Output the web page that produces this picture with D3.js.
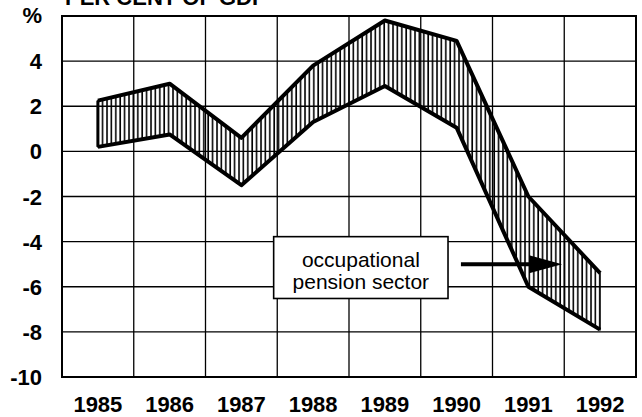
<!DOCTYPE html>
<html>
<head>
<meta charset="utf-8">
<script src="https://cdn.jsdelivr.net/npm/d3@7"></script>
<style>
  body { margin: 0; background: #fff; }
  text { font-family: "Liberation Sans", Arial, Helvetica, sans-serif; fill: #000; }
</style>
</head>
<body>
<div id="chart"></div>
<script>
// values, per cent of GDP
var years = [1985, 1986, 1987, 1988, 1989, 1990, 1991, 1992];
var upper = [2.25, 3.0, 0.6, 3.8, 5.8, 4.9, -2.0, -5.4];
var lower = [0.2, 0.75, -1.5, 1.3, 2.9, 1.05, -6.0, -7.9];
var yTicks = [-10, -8, -6, -4, -2, 0, 2, 4];
var boxLines = ["occupational", "pension sector"];

var full_width = 642, full_height = 417;
var margin = {top: 16, right: 6, bottom: 40, left: 62};
var width = full_width - margin.left - margin.right;
var height = full_height - margin.top - margin.bottom;

var svg = d3.select("#chart")
  .append("svg")
    .attr("width", full_width)
    .attr("height", full_height)
  .append("g")
    .attr("transform", "translate(" + margin.left + "," + margin.top + ")");

var x = d3.scaleLinear().domain([1984.5, 1992.5]).range([0, width]);
var y = d3.scaleLinear().domain([-10, 6]).range([height, 0]);

var data = years.map(function(d, i) { return {year: d, hi: upper[i], lo: lower[i]}; });

// hatching pattern
var defs = svg.append("defs");
defs.append("pattern")
    .attr("id", "hatch")
    .attr("patternUnits", "userSpaceOnUse")
    .attr("width", 4.4)
    .attr("height", 10)
  .append("line")
    .attr("x1", 1).attr("x2", 1)
    .attr("y1", 0).attr("y2", 10)
    .attr("stroke", "#000")
    .attr("stroke-width", 1.6);

// grid
svg.selectAll(".hgrid")
  .data(yTicks.filter(function(d) { return d > -10; }))
  .enter().append("line")
    .attr("x1", 0).attr("x2", width)
    .attr("y1", d => y(d)).attr("y2", d => y(d))
    .attr("stroke", "#000").attr("stroke-width", 1.3);

svg.selectAll(".vgrid")
  .data(years.slice(0, -1))
  .enter().append("line")
    .attr("x1", d => x(d + 0.5)).attr("x2", d => x(d + 0.5))
    .attr("y1", 0).attr("y2", height)
    .attr("stroke", "#000").attr("stroke-width", 1.3);

// frame
svg.append("rect")
  .attr("width", width).attr("height", height)
  .attr("fill", "none").attr("stroke", "#000").attr("stroke-width", 2);

// hatched band
var band = d3.area()
  .x(d => x(d.year))
  .y0(d => y(d.lo))
  .y1(d => y(d.hi));

svg.append("path")
  .attr("d", band(data))
  .attr("fill", "url(#hatch)")
  .attr("stroke", "#000")
  .attr("stroke-width", 1.3);

// left end of band
svg.append("line")
  .attr("x1", x(years[0])).attr("x2", x(years[0]))
  .attr("y1", y(lower[0])).attr("y2", y(upper[0]))
  .attr("stroke", "#000").attr("stroke-width", 3);

var hiLine = d3.line().x(d => x(d.year)).y(d => y(d.hi));
var loLine = d3.line().x(d => x(d.year)).y(d => y(d.lo));

svg.append("path")
  .attr("d", hiLine(data))
  .attr("fill", "none").attr("stroke", "#000")
  .attr("stroke-width", 4).attr("stroke-linejoin", "round");

svg.append("path")
  .attr("d", loLine(data))
  .attr("fill", "none").attr("stroke", "#000")
  .attr("stroke-width", 4).attr("stroke-linejoin", "round");

// y tick labels
svg.selectAll(".ylab")
  .data(yTicks)
  .enter().append("text")
    .attr("x", -20)
    .attr("y", d => y(d) + 8)
    .attr("text-anchor", "end")
    .style("font-size", "22px")
    .style("font-weight", "bold")
    .text(d => d);

// x tick labels
svg.selectAll(".xlab")
  .data(years)
  .enter().append("text")
    .attr("x", d => x(d))
    .attr("y", height + 35)
    .attr("text-anchor", "middle")
    .style("font-size", "22px")
    .style("font-weight", "bold")
    .text(d => d);

// unit and title
svg.append("text")
  .attr("x", -20).attr("y", 7)
  .attr("text-anchor", "end")
  .style("font-size", "22px").style("font-weight", "bold")
  .text("%");

svg.append("text")
  .attr("x", 3).attr("y", -11)
  .style("font-size", "22px").style("font-weight", "bold")
  .text("PER CENT OF GDP");

// annotation box
var bx0 = x(1987.45), bx1 = x(1989.88), by0 = y(-3.78), by1 = y(-6.52);
svg.append("rect")
  .attr("x", bx0).attr("y", by0)
  .attr("width", bx1 - bx0).attr("height", by1 - by0)
  .attr("fill", "#fff").attr("stroke", "#000").attr("stroke-width", 1.6);

svg.selectAll(".boxlab")
  .data(boxLines)
  .enter().append("text")
    .attr("x", (bx0 + bx1) / 2)
    .attr("y", (d, i) => by0 + 30 + i * 22)
    .attr("text-anchor", "middle")
    .style("font-size", "21px")
    .text(d => d);

// arrow
var ay = y(-5.0), ax0 = x(1990.06), ax1 = x(1991.47);
svg.append("line")
  .attr("x1", ax0).attr("x2", ax1 - 28)
  .attr("y1", ay).attr("y2", ay)
  .attr("stroke", "#000").attr("stroke-width", 4);
svg.append("path")
  .attr("d", "M" + (ax1 - 33) + "," + (ay - 9) + "L" + ax1 + "," + ay + "L" + (ax1 - 33) + "," + (ay + 9) + "Z")
  .attr("fill", "#000");
</script>
</body>
</html>
